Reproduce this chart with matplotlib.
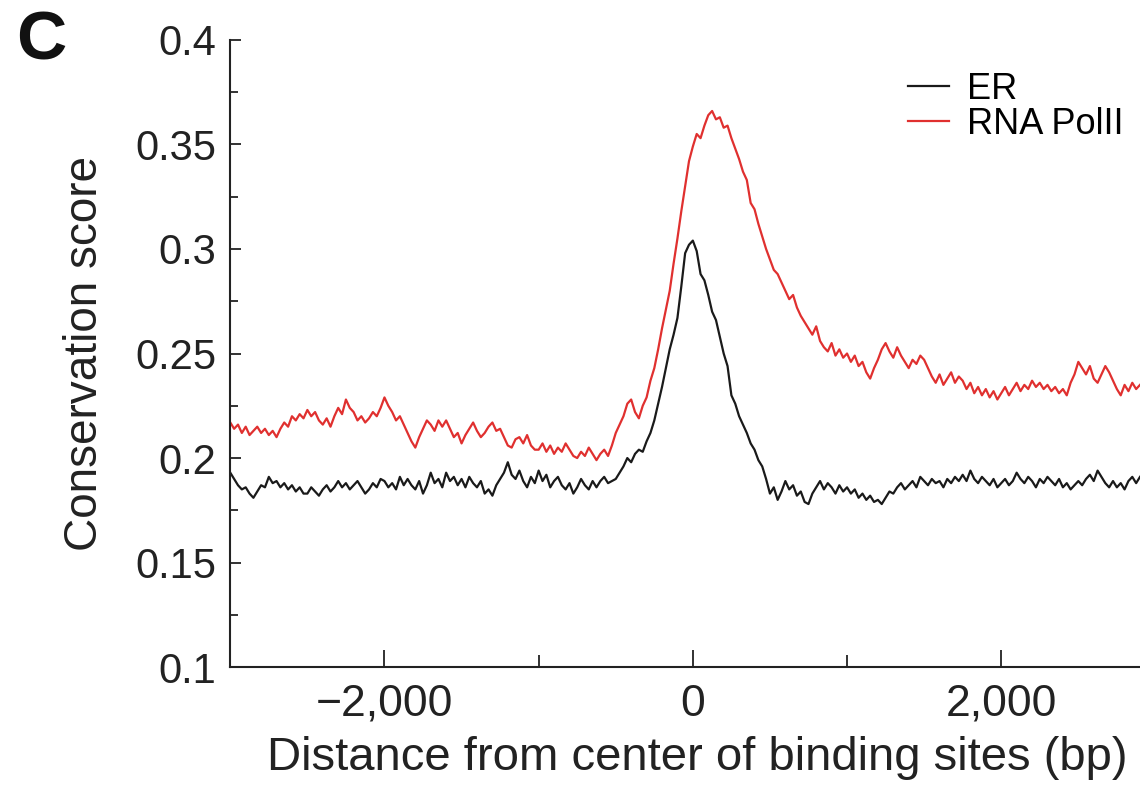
"""
conservation score around ER / RNA PolII binding sites
"""

import numpy as np
import matplotlib.pyplot as plt

# bin centres (bp from binding site centre), 25 bp bins
distance = np.arange(-3000, 2901, 25)

er_score = [
    0.193, 0.190, 0.187, 0.185, 0.186, 0.183, 0.181, 0.184, 0.187, 0.186,
    0.191, 0.188, 0.189, 0.186, 0.188, 0.185, 0.187, 0.184, 0.186, 0.183,
    0.183, 0.186, 0.184, 0.182, 0.185, 0.187, 0.184, 0.186, 0.189, 0.186,
    0.188, 0.185, 0.187, 0.189, 0.186, 0.183, 0.185, 0.188, 0.186, 0.190,
    0.189, 0.186, 0.188, 0.185, 0.191, 0.187, 0.190, 0.187, 0.185, 0.189,
    0.183, 0.187, 0.193, 0.188, 0.190, 0.186, 0.193, 0.189, 0.191, 0.187,
    0.190, 0.186, 0.191, 0.188, 0.186, 0.189, 0.183, 0.185, 0.182, 0.187,
    0.190, 0.193, 0.198, 0.192, 0.190, 0.194, 0.189, 0.186, 0.191, 0.188,
    0.194, 0.189, 0.192, 0.186, 0.189, 0.191, 0.187, 0.185, 0.188, 0.183,
    0.186, 0.190, 0.187, 0.185, 0.189, 0.186, 0.189, 0.191, 0.188, 0.189,
    0.190, 0.193, 0.196, 0.200, 0.198, 0.202, 0.204, 0.203, 0.208, 0.212,
    0.218, 0.226, 0.234, 0.243, 0.252, 0.259, 0.267, 0.282, 0.298, 0.302,
    0.304, 0.299, 0.288, 0.285, 0.278, 0.270, 0.266, 0.258, 0.250, 0.244,
    0.230, 0.226, 0.220, 0.216, 0.212, 0.207, 0.204, 0.199, 0.196, 0.190,
    0.183, 0.186, 0.180, 0.184, 0.189, 0.185, 0.187, 0.182, 0.184, 0.179,
    0.178, 0.183, 0.186, 0.189, 0.185, 0.188, 0.186, 0.183, 0.187, 0.184,
    0.186, 0.183, 0.185, 0.181, 0.183, 0.180, 0.182, 0.179, 0.180, 0.178,
    0.181, 0.184, 0.183, 0.186, 0.188, 0.185, 0.187, 0.189, 0.186, 0.191,
    0.189, 0.187, 0.190, 0.188, 0.189, 0.186, 0.190, 0.188, 0.191, 0.189,
    0.192, 0.189, 0.194, 0.190, 0.188, 0.191, 0.189, 0.187, 0.190, 0.186,
    0.188, 0.190, 0.187, 0.189, 0.193, 0.190, 0.188, 0.191, 0.189, 0.186,
    0.190, 0.188, 0.191, 0.189, 0.187, 0.190, 0.186, 0.188, 0.185, 0.187,
    0.189, 0.187, 0.190, 0.192, 0.189, 0.194, 0.191, 0.188, 0.186, 0.189,
    0.186, 0.188, 0.185, 0.189, 0.191, 0.188, 0.191,
]

pol2_score = [
    0.217, 0.214, 0.216, 0.212, 0.215, 0.211, 0.213, 0.215, 0.212, 0.214,
    0.211, 0.213, 0.210, 0.214, 0.217, 0.215, 0.220, 0.218, 0.221, 0.219,
    0.223, 0.220, 0.222, 0.218, 0.216, 0.219, 0.215, 0.220, 0.224, 0.221,
    0.228, 0.224, 0.222, 0.218, 0.220, 0.217, 0.219, 0.222, 0.220, 0.224,
    0.229, 0.225, 0.222, 0.218, 0.220, 0.216, 0.212, 0.208, 0.205, 0.210,
    0.214, 0.218, 0.216, 0.213, 0.218, 0.215, 0.218, 0.214, 0.210, 0.212,
    0.207, 0.211, 0.214, 0.217, 0.213, 0.210, 0.212, 0.215, 0.217, 0.213,
    0.214, 0.210, 0.206, 0.205, 0.209, 0.210, 0.207, 0.211, 0.206, 0.204,
    0.204, 0.207, 0.203, 0.206, 0.202, 0.205, 0.203, 0.207, 0.204, 0.201,
    0.200, 0.203, 0.201, 0.205, 0.202, 0.199, 0.202, 0.204, 0.201, 0.206,
    0.212, 0.216, 0.220, 0.226, 0.228, 0.222, 0.219, 0.225, 0.229, 0.237,
    0.243, 0.252, 0.262, 0.271, 0.280, 0.293, 0.305, 0.318, 0.330, 0.342,
    0.349, 0.355, 0.353, 0.359, 0.364, 0.366, 0.362, 0.363, 0.358, 0.359,
    0.353, 0.348, 0.343, 0.337, 0.333, 0.322, 0.319, 0.312, 0.306, 0.300,
    0.295, 0.290, 0.288, 0.284, 0.280, 0.276, 0.278, 0.272, 0.268, 0.265,
    0.262, 0.259, 0.263, 0.256, 0.253, 0.251, 0.255, 0.249, 0.252, 0.248,
    0.250, 0.246, 0.249, 0.244, 0.246, 0.241, 0.238, 0.243, 0.247, 0.252,
    0.255, 0.251, 0.248, 0.253, 0.249, 0.246, 0.243, 0.247, 0.245, 0.249,
    0.247, 0.243, 0.239, 0.236, 0.240, 0.235, 0.238, 0.241, 0.236, 0.239,
    0.237, 0.233, 0.236, 0.231, 0.234, 0.230, 0.233, 0.229, 0.232, 0.228,
    0.231, 0.234, 0.230, 0.233, 0.236, 0.232, 0.235, 0.233, 0.237, 0.234,
    0.236, 0.233, 0.235, 0.232, 0.234, 0.231, 0.233, 0.230, 0.236, 0.240,
    0.246, 0.243, 0.240, 0.244, 0.238, 0.236, 0.240, 0.244, 0.241, 0.237,
    0.233, 0.230, 0.235, 0.232, 0.236, 0.233, 0.235,
]

series_names = ["ER", "RNA PolII"]
x_ticks = [-2000, 0, 2000]
x_tick_labels = ["\u22122,000", "0", "2,000"]
y_ticks = [0.1, 0.15, 0.2, 0.25, 0.3, 0.35, 0.4]
y_tick_labels = ["0.1", "0.15", "0.2", "0.25", "0.3", "0.35", "0.4"]


def main():
    """ main """
    plt.switch_backend("agg")
    plt.rcParams['font.family'] = ['Liberation Sans', 'DejaVu Sans']
    assert len(er_score) == len(distance) == len(pol2_score)

    fig = plt.figure(figsize=(11.4, 7.98), dpi=100)
    ax = fig.add_axes([0.202, 0.164, 0.798, 0.786])

    ax.plot(distance, er_score, color='#1a1a1a', lw=1.6, label=series_names[0])
    ax.plot(distance, pol2_score, color='#e0302f', lw=1.6, label=series_names[1])

    ax.set_xlim(-3000, 2900)
    ax.set_ylim(0.1, 0.4)
    ax.set_xticks(x_ticks)
    ax.set_xticklabels(x_tick_labels)
    ax.set_xticks([-1000, 1000], minor=True)
    ax.set_yticks(y_ticks)
    ax.set_yticklabels(y_tick_labels)
    ax.set_yticks(np.array(y_ticks[:-1]) + 0.025, minor=True)

    for side in ('top', 'right'):
        ax.spines[side].set_visible(False)
    for side in ('left', 'bottom'):
        ax.spines[side].set_linewidth(1.5)
        ax.spines[side].set_color('#222222')

    ax.tick_params(axis='both', which='both', direction='in',
                   colors='#222222', width=1.3)
    ax.tick_params(axis='x', which='major', length=12, pad=12, labelsize=32)
    ax.tick_params(axis='x', which='minor', length=9)
    ax.tick_params(axis='y', which='major', length=8, pad=10, labelsize=30)
    ax.tick_params(axis='y', which='minor', length=6)

    ax.set_xlabel('Distance from center of binding sites (bp)', fontsize=34,
                  color='#222222', labelpad=8)
    ax.xaxis.label.set_x(0.513)
    ax.set_ylabel('Conservation score', fontsize=33, color='#222222',
                  labelpad=20)

    ax.legend(loc='upper right', bbox_to_anchor=(1.0, 0.975), frameon=False,
              fontsize=26, handlelength=1.15, handletextpad=0.5,
              labelspacing=0.0, borderaxespad=0.05)

    fig.text(0.014, 0.925, 'C', fontsize=50, fontweight='bold', color='#111111')

    fig.savefig("out.png", dpi=100)


if __name__ == "__main__":
    main()
